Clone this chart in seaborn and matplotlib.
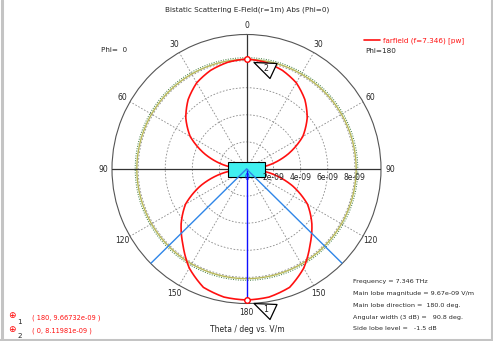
import numpy as np
import pandas as pd
import matplotlib
matplotlib.use("Agg")
import matplotlib.pyplot as plt
import seaborn as sns
from matplotlib.path import Path
from matplotlib.lines import Line2D
from matplotlib.patches import Rectangle

# Bistatic scattering E-field (Phi=0 / Phi=180 halves are the same cut)
theta_deg = [0, 10, 20, 30, 40, 50, 60, 70, 80, 85, 90,
             95, 100, 110, 120, 130, 140, 150, 160, 170, 180]
e_abs = [8.12, 8.0, 7.75, 7.35, 6.7, 5.85, 4.8, 3.3, 1.7, 0.8, 0.0,
         0.8, 1.8, 3.6, 5.2, 6.3, 7.3, 8.45, 9.3, 9.6, 9.67]  # x 1e-9 V/m

r_ticks = [2e-9, 4e-9, 6e-9, 8e-9]
r_tick_labels = ["2e-09", "4e-09", "6e-09", "8e-09"]
angle_ticks = [0, 30, 60, 90, 120, 150, 180, 210, 240, 270, 300, 330]
angle_labels = ["0", "30", "60", "90", "120", "150", "180", "150", "120", "90", "60", "30"]
r_max = 9.93e-9

main_dir = 180.0
main_mag = 9.67e-9
ang_width = 90.8
side_lobe_db = -1.5
marker_pts = [(180, 9.66732e-09), (0, 8.11981e-09)]
info_lines = ["Frequency = 7.346 THz",
              "Main lobe magnitude = 9.67e-09 V/m",
              "Main lobe direction =  180.0 deg.",
              "Angular width (3 dB) =   90.8 deg.",
              "Side lobe level =   -1.5 dB"]

sns.set_style("white")
plt.rcParams["font.family"] = ["DejaVu Sans"]
fs = 5.2

W, H = 493, 341
fig = plt.figure(figsize=(W / 100, H / 100), dpi=100)
cx, cy, rad = 246.5, 169, 134.5
ax = fig.add_axes([(cx - rad) / W, (H - cy - rad) / H, 2 * rad / W, 2 * rad / H],
                  projection="polar")
ax.set_theta_zero_location("N")
ax.set_theta_direction(-1)
ax.set_facecolor("white")

# closed curve: right half (Phi=0) then mirrored left half (Phi=180)
ang = theta_deg + [360 - t for t in theta_deg[::-1]]
val = e_abs + e_abs[::-1]
df = pd.DataFrame({"theta": np.deg2rad(ang), "E": np.array(val) * 1e-9})
sns.lineplot(data=df, x="theta", y="E", sort=False, color="#ff1010", lw=1.2,
             ax=ax, label="farfield (f=7.346) [pw]", zorder=5)
ax.set_xlabel("")
ax.set_ylabel("")
# let the polar transform draw the segments as spirals instead of chords
red = ax.lines[0]
red.get_path()._interpolation_steps = 20

# side lobe level circles
lvl = main_mag * 10 ** (side_lobe_db / 20)
circ = np.linspace(0, 2 * np.pi, 181)
ax.plot(circ, np.full_like(circ, lvl * 0.995), color="#b8b858", lw=1.0, zorder=3)
ax.plot(circ, np.full_like(circ, lvl * 1.01), color="#3c7a3c", lw=0.7, ls=(0, (1, 1.5)), zorder=3)

ax.set_ylim(0, r_max)
ax.set_yticks(r_ticks)
ax.set_yticklabels([])
ax.set_xticks(np.deg2rad(angle_ticks))
ax.set_xticklabels(angle_labels, fontsize=fs + 0.3)
ax.tick_params(axis="x", pad=-4)
ax.grid(True, color="#8a8a8a", lw=0.6, ls=(0, (2, 2)))
ax.spines["polar"].set_color("#555555")
ax.spines["polar"].set_linewidth(0.8)

# main axes lines
ax.plot([0, 0], [0, r_max], color="#333333", lw=0.9, zorder=4)
ax.plot([np.pi / 2, np.pi / 2], [0, r_max], color="#333333", lw=0.9, zorder=4)
ax.plot([3 * np.pi / 2, 3 * np.pi / 2], [0, r_max], color="#333333", lw=0.9, zorder=4)

# main lobe direction and 3 dB width
ax.plot([np.deg2rad(main_dir)] * 2, [0, r_max], color="#1010ff", lw=1.0, zorder=7)
for d in (main_dir - ang_width / 2, main_dir + ang_width / 2):
    ax.plot([np.deg2rad(d)] * 2, [0, r_max], color="#2f86e8", lw=1.0, zorder=7)

# cyan box at origin
ax.add_patch(Rectangle((0.5 - 18.5 / 269, 0.5 - 7.5 / 269), 37 / 269, 15 / 269,
                       transform=ax.transAxes, facecolor="#40f0f0", edgecolor="black",
                       lw=0.8, zorder=6))

# radial labels
ax.annotate("0", xy=(0, 0), xytext=(0, -3), textcoords="offset points",
            ha="center", va="top", fontsize=fs + 0.3, color="#1010ff", zorder=8)
for r, lab in zip(r_ticks, r_tick_labels):
    ax.annotate(lab, xy=(np.pi / 2, r), xytext=(0, -3), textcoords="offset points",
                ha="center", va="top", fontsize=fs + 0.3, zorder=8)

# markers with triangle tags
tri = Path([(6.5, -3), (29.5, -4), (22.5, -19), (6.5, -3)],
           [Path.MOVETO, Path.LINETO, Path.LINETO, Path.CLOSEPOLY])
for i, (t, r) in enumerate(marker_pts):
    th = np.deg2rad(t)
    ax.plot([th], [r], marker=tri, ms=42.5, mfc="white", mec="black", mew=0.9,
            zorder=9, clip_on=False)
    ax.plot([th], [r], marker="o", ms=4, mfc="white", mec="red", mew=1, zorder=10,
            clip_on=False)
    ax.annotate(str(i + 1), xy=(th, r), xytext=(14, -7), textcoords="offset points",
                ha="center", va="center", fontsize=fs + 0.5, zorder=10)

ax.legend(loc="center left", bbox_to_anchor=(360 / W, 1 - 41 / H),
          bbox_transform=fig.transFigure, frameon=False, fontsize=fs,
          labelcolor="#ff1010", handlelength=2.2, handletextpad=0.5, borderpad=0)

def px(x, y):
    return x / W, 1 - y / H

fig.text(*px(247, 10), "Bistatic Scattering E-Field(r=1m) Abs (Phi=0)",
         ha="center", va="center", fontsize=fs)
fig.text(*px(101, 50), "Phi=  0", ha="left", va="center", fontsize=fs)
fig.text(*px(365, 51), "Phi=180", ha="left", va="center", fontsize=fs)
fig.text(*px(247, 330), "Theta / deg vs. V/m", ha="center", va="center", fontsize=fs + 0.3)
for i, line in enumerate(info_lines):
    fig.text(*px(353, 281 + 12 * i), line, ha="left", va="center", fontsize=4.6)

for i, (t, r) in enumerate(marker_pts):
    y = 318 + 13 * i
    fig.text(*px(12, y - 2), "\u2295", ha="center", va="center", fontsize=6.5, color="red")
    fig.text(*px(19.5, y + 4.5), str(i + 1), ha="center", va="center", fontsize=fs)
    fig.text(*px(32, y), f"( {t:g}, {r:.6g} )", ha="left", va="center",
             fontsize=4.8, color="#ff1010")

# window frame
for xs, ys in (([1.5, 1.5], [0, H]), ([W - 1.5, W - 1.5], [0, H]), ([0, W], [H - 1.5, H - 1.5])):
    fig.add_artist(Line2D([x / W for x in xs], [1 - y / H for y in ys],
                          color="#c4c4c4", lw=2.2))

fig.savefig("out.png", dpi=100, facecolor="white")
